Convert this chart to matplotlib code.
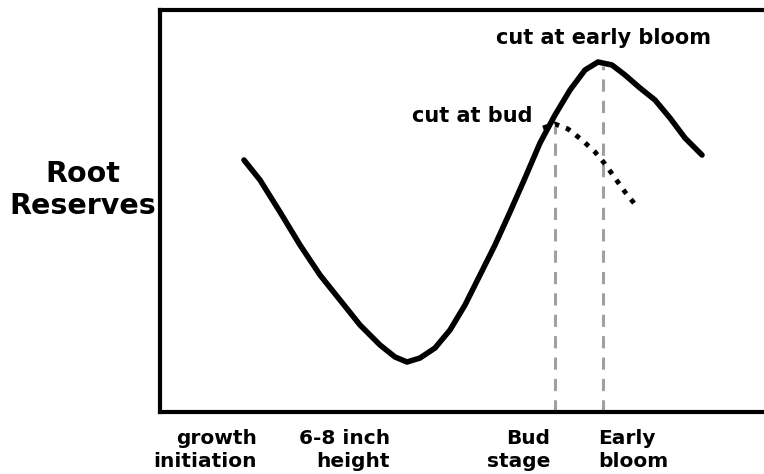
import matplotlib
matplotlib.use("Agg")
import matplotlib.pyplot as plt

# conceptual chart: coordinates are in picture units (x right, y down)
main_x = [244, 260, 280, 300, 320, 340, 360, 380, 395, 407, 420, 435, 450, 465,
          480, 495, 510, 525, 540, 555, 570, 585, 598, 612, 625, 640, 655, 670,
          685, 702]
main_y = [160, 180, 212, 245, 275, 300, 325, 345, 357, 362, 358, 348, 330, 305,
          275, 245, 212, 178, 143, 115, 90, 70, 62, 65, 75, 88, 100, 118,
          138, 155]

bud_x = [543, 555, 568, 582, 595, 605, 615, 625, 638]
bud_y = [128, 124, 129, 140, 152, 164, 178, 192, 208]

stage_x = [555, 603]
stage_top = [126, 66]

tick_names = ["growth\ninitiation", "6-8 inch\nheight", "Bud\nstage", "Early\nbloom"]
tick_x = [257, 390, 550, 598]
tick_ha = ["right", "right", "right", "left"]

W, H = 764, 474
fig = plt.figure(figsize=(W / 100, H / 100), dpi=100)
ax = fig.add_axes([160 / W, (H - 412) / H, (W - 160) / W, (412 - 10) / H])
ax.set_xlim(160, 764)
ax.set_ylim(412, 10)
ax.set_xticks([])
ax.set_yticks([])
for side in ["left", "top", "bottom"]:
    ax.spines[side].set_linewidth(3.0)
ax.spines["right"].set_visible(False)

for x, top in zip(stage_x, stage_top):
    ax.plot([x, x], [412, top], color="#a0a0a0", linewidth=2.2,
            linestyle=(0, (4, 3)), zorder=1)

ax.plot(main_x, main_y, color="black", linewidth=4.0,
        solid_capstyle="round", solid_joinstyle="round", zorder=3)
ax.plot(bud_x, bud_y, color="black", linewidth=3.5,
        linestyle=(0, (1, 1.5)), zorder=3)

ax.text(604, 38, "cut at early bloom", ha="center", va="center",
        fontsize=15, fontweight="bold")
ax.text(533, 116, "cut at bud", ha="right", va="center",
        fontsize=15, fontweight="bold")

for name, x, ha in zip(tick_names, tick_x, tick_ha):
    ax.text(x, 450, name, ha=ha, va="center", multialignment=ha,
            fontsize=14.5, fontweight="bold", linespacing=1.22, clip_on=False)

fig.text(83 / W, 1 - 190 / H, "Root\nReserves", ha="center", va="center",
         fontsize=20.5, fontweight="bold", linespacing=1.15)

fig.savefig("out.png", dpi=100)
